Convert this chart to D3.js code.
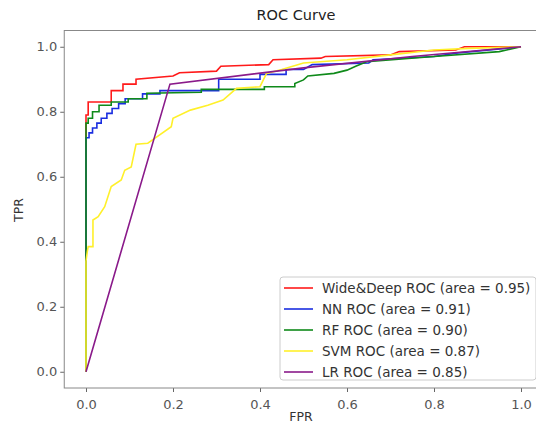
<!DOCTYPE html>
<html lang="en">
<head>
    <meta charset="UTF-8"/>
    <title>ROC Curve</title>
    <script src="https://d3js.org/d3.v7.min.js"></script>
    <style>
        body { margin: 0; background: #fff; }
        text { font-family: "DejaVu Sans", sans-serif; }
    </style>
</head>
<body>
<script>
    // data
    var models = ["Wide&Deep", "NN", "RF", "SVM", "LR"];
    var areas = [0.95, 0.91, 0.90, 0.87, 0.85];
    var colors = ["#ff1a1a", "#1a2ee0", "#0f8a1a", "#fff02a", "#8a1a8a"];
    var ticks = [0, 0.2, 0.4, 0.6, 0.8, 1.0];

    var wdFpr = [0, 0, 0, 0.005, 0.005, 0.058, 0.058, 0.085, 0.085, 0.115, 0.115, 0.2, 0.215, 0.3, 0.31, 0.42, 0.43, 0.54, 0.55, 0.7, 0.72, 0.85, 0.87, 1];
    var wdTpr = [0, 0.75, 0.79, 0.79, 0.83, 0.83, 0.865, 0.865, 0.885, 0.885, 0.9, 0.91, 0.92, 0.925, 0.94, 0.945, 0.96, 0.965, 0.97, 0.975, 0.985, 0.99, 1, 1];

    var nnFpr = [0, 0, 0.007, 0.007, 0.015, 0.015, 0.025, 0.025, 0.035, 0.035, 0.048, 0.048, 0.06, 0.06, 0.075, 0.075, 0.09, 0.09, 0.13, 0.13, 0.17, 0.17, 0.305, 0.305, 0.4, 0.4, 0.46, 0.46, 0.5, 0.52, 0.65, 0.66, 0.8, 0.85, 1];
    var nnTpr = [0, 0.72, 0.72, 0.735, 0.735, 0.75, 0.75, 0.765, 0.765, 0.78, 0.78, 0.795, 0.795, 0.81, 0.81, 0.825, 0.825, 0.84, 0.84, 0.855, 0.855, 0.865, 0.865, 0.9, 0.9, 0.915, 0.915, 0.93, 0.93, 0.945, 0.95, 0.96, 0.97, 0.98, 1];

    var rfFpr = [0, 0, 0.005, 0.005, 0.015, 0.015, 0.03, 0.03, 0.058, 0.058, 0.097, 0.097, 0.14, 0.14, 0.265, 0.265, 0.41, 0.41, 0.48, 0.48, 0.5, 0.51, 0.57, 0.6, 0.62, 0.645, 0.8, 0.95, 1];
    var rfTpr = [0, 0.765, 0.765, 0.78, 0.78, 0.8, 0.8, 0.82, 0.82, 0.83, 0.83, 0.84, 0.84, 0.857, 0.86, 0.869, 0.869, 0.877, 0.877, 0.887, 0.898, 0.91, 0.918, 0.928, 0.94, 0.954, 0.97, 0.985, 1];

    var svmFpr = [0, 0, 0.003, 0.005, 0.016, 0.016, 0.028, 0.043, 0.058, 0.081, 0.089, 0.104, 0.115, 0.142, 0.158, 0.196, 0.2, 0.24, 0.28, 0.315, 0.346, 0.4, 0.415, 0.45, 0.5, 0.6, 0.7, 0.8, 0.88, 1];
    var svmTpr = [0, 0.34, 0.37, 0.385, 0.385, 0.467, 0.477, 0.508, 0.57, 0.59, 0.62, 0.63, 0.70, 0.703, 0.718, 0.754, 0.78, 0.805, 0.82, 0.836, 0.872, 0.877, 0.918, 0.93, 0.95, 0.96, 0.975, 0.99, 0.995, 1];

    var lrFpr = [0, 0.193, 0.5, 0.75, 1];
    var lrTpr = [0, 0.885, 0.935, 0.97, 1];

    var series = [[wdFpr, wdTpr], [nnFpr, nnTpr], [rfFpr, rfTpr], [svmFpr, svmTpr], [lrFpr, lrTpr]];

    var w = 536;
    var h = 429;
    var plotLeft = 64.25, plotRight = 542.75, plotTop = 30.5, plotBottom = 388;

    var xScale = d3.scaleLinear().domain([-0.05, 1.05]).range([plotLeft, plotRight]);
    var yScale = d3.scaleLinear().domain([-0.05, 1.05]).range([plotBottom, plotTop]);

    var svg = d3.select("body")
                .append("svg")
                .attr("width", w)
                .attr("height", h);

    svg.append("defs").append("clipPath")
        .attr("id", "plot")
        .append("rect")
        .attr("x", plotLeft).attr("y", plotTop)
        .attr("width", plotRight - plotLeft).attr("height", plotBottom - plotTop);

    var line = d3.line()
                 .x(function(d){ return xScale(d[0]); })
                 .y(function(d){ return yScale(d[1]); });

    var curves = svg.append("g").attr("clip-path", "url(#plot)");
    series.forEach(function(s, i){
        var pts = s[0].map(function(x, j){ return [x, s[1][j]]; });
        curves.append("path")
            .datum(pts)
            .attr("d", line)
            .attr("fill", "none")
            .attr("stroke", colors[i])
            .attr("stroke-width", 1.6);
    });

    // axes
    var xAxis = svg.append("g")
        .attr("transform", "translate(0," + plotBottom + ")")
        .call(d3.axisBottom(xScale).tickValues(ticks).tickFormat(d3.format(".1f")).tickSize(4));
    var yAxis = svg.append("g")
        .attr("transform", "translate(" + plotLeft + ",0)")
        .call(d3.axisLeft(yScale).tickValues(ticks).tickFormat(d3.format(".1f")).tickSize(4));

    [xAxis, yAxis].forEach(function(a){
        a.select(".domain").remove();
        a.selectAll("line").attr("stroke", "#666");
        a.selectAll("text").attr("fill", "#555").style("font-size", "13px")
         .style("font-family", "DejaVu Sans, sans-serif");
    });
    xAxis.selectAll("text").attr("y", 9).attr("dy", "0.9em");

    svg.append("rect")
        .attr("x", plotLeft).attr("y", plotTop)
        .attr("width", plotRight - plotLeft).attr("height", plotBottom - plotTop)
        .attr("fill", "none")
        .attr("stroke", "#888")
        .attr("stroke-width", 1);

    // labels
    svg.append("text")
        .attr("x", 296).attr("y", 20)
        .attr("text-anchor", "middle")
        .style("font-size", "14.5px")
        .attr("fill", "#222")
        .text("ROC Curve");

    svg.append("text")
        .attr("x", 301).attr("y", 421)
        .attr("text-anchor", "middle")
        .style("font-size", "12.5px")
        .attr("fill", "#333")
        .text("FPR");

    svg.append("text")
        .attr("transform", "translate(23,210) rotate(-90)")
        .attr("text-anchor", "middle")
        .style("font-size", "12.5px")
        .attr("fill", "#333")
        .text("TPR");

    // legend
    var legend = svg.append("g");
    legend.append("rect")
        .attr("x", 280).attr("y", 277)
        .attr("width", 256).attr("height", 103)
        .attr("rx", 3)
        .attr("fill", "white")
        .attr("fill-opacity", 0.9)
        .attr("stroke", "#ccc");

    models.forEach(function(m, i){
        var yy = 288 + i * 21;
        legend.append("line")
            .attr("x1", 284).attr("x2", 313)
            .attr("y1", yy).attr("y2", yy)
            .attr("stroke", colors[i])
            .attr("stroke-width", 1.6);
        legend.append("text")
            .attr("x", 322).attr("y", yy + 4.5)
            .style("font-size", "13.5px")
            .attr("fill", "#333")
            .text(m + " ROC (area = " + areas[i].toFixed(2) + ")");
    });
</script>
</body>
</html>
